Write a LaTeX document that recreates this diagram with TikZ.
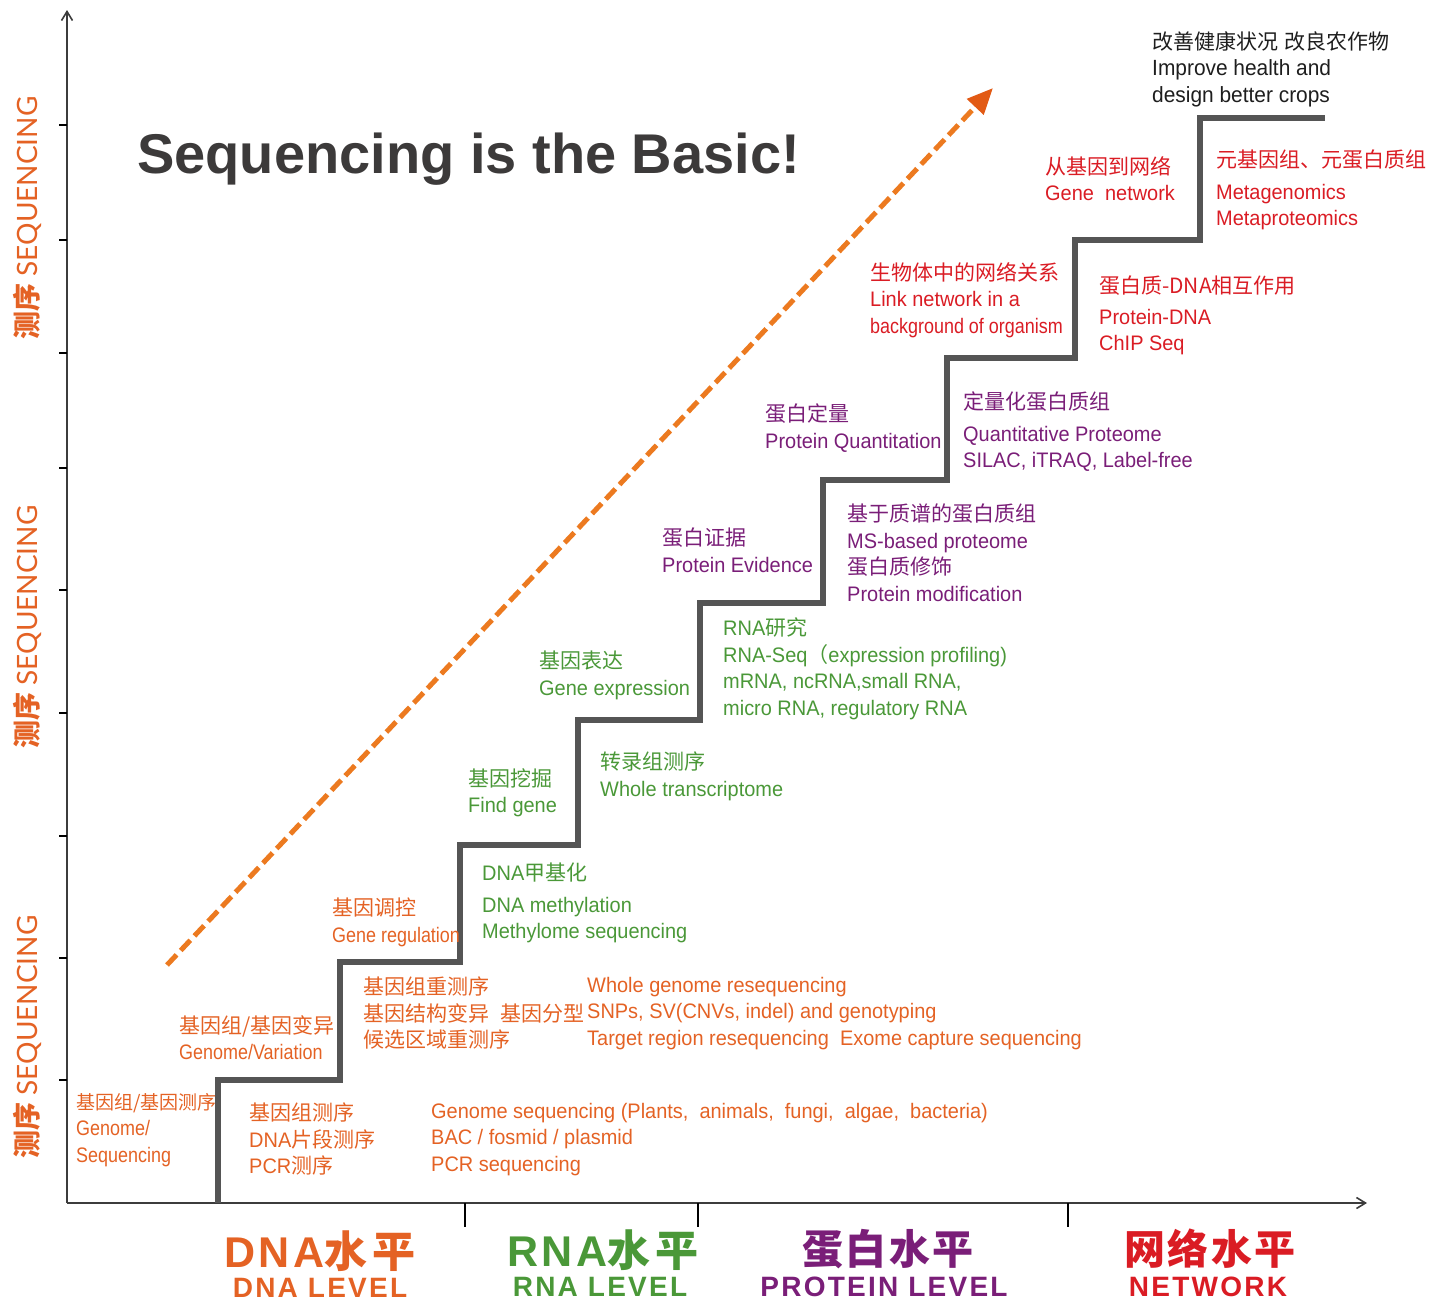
\documentclass[tikz,border=0pt]{standalone}
\usepackage{fontspec}
\usetikzlibrary{arrows.meta}
\setmainfont[FakeStretch=0.95]{Liberation Sans}
\newfontfamily\narrowsans[FakeStretch=0.855]{Liberation Sans}
\newfontfamily\plainsans{Liberation Sans}
\newfontfamily\cjk{Noto Sans CJK SC}
\newfontfamily\cjkls[LetterSpace=12]{Noto Sans CJK SC}
\newfontfamily\cjklt[LetterSpace=6]{Noto Sans CJK SC}
\newfontfamily\botfont[LetterSpace=8]{Liberation Sans}
\newfontfamily\labfont{Lato}
\definecolor{cor}{RGB}{228,98,36}
\definecolor{cgr}{RGB}{74,152,56}
\definecolor{cpu}{RGB}{122,30,120}
\definecolor{cre}{RGB}{218,28,36}
\definecolor{cdark}{RGB}{30,30,30}
\definecolor{ctitle}{RGB}{60,58,58}
\definecolor{cstair}{RGB}{85,85,85}
\definecolor{carrow}{RGB}{236,122,32}
\definecolor{chead}{RGB}{226,90,20}
\definecolor{caxis}{RGB}{60,60,60}
\tikzset{
  txt/.style={anchor=north west, inner sep=0pt, align=left, font=\fontsize{21}{26.5}\selectfont},
  sidelab/.style={rotate=90, inner sep=0pt, text=cor, font=\fontsize{28}{28}\selectfont\labfont},
  bigtitle/.style={anchor=base, inner sep=0pt, text depth=0pt, font=\fontsize{43}{43}\selectfont\botfont\bfseries},
  subtitle/.style={anchor=base, inner sep=0pt, text height=22pt, font=\fontsize{28}{28}\selectfont\botfont\bfseries},
  axisline/.style={line width=1.6pt, draw=caxis, -{Straight Barb[length=9pt,width=11pt]}},
  tickline/.style={line width=2.2pt, draw=black},
  stair/.style={line width=6pt, draw=cstair, line join=miter},
  darrow/.style={line width=5pt, draw=carrow, dash pattern=on 14pt off 6pt, -{Triangle[length=26pt,width=22pt,color=chead]}}
}
\begin{document}
\begin{tikzpicture}[x=1pt,y=-1pt]
\useasboundingbox (0,0) rectangle (1432,1301);
% axes
\coordinate (o) at (67,1203);
\coordinate (ytop) at (67,10);
\coordinate (xend) at (1367,1203);
\draw[axisline] (o) -- (ytop);
\draw[axisline] (o) -- (xend);
\foreach \yy in {125,240,353,468,590,713,836,958,1080}
  \draw[tickline, line width=1.8pt] (59,\yy) -- (67,\yy);
\foreach \xx in {465,698,1068}
  \draw[tickline] (\xx,1203) -- (\xx,1227);
% staircase
\draw[stair] (218,1203) -- (218,1080) -- (340,1080) -- (340,962) -- (460,962) -- (460,845)
  -- (578,845) -- (578,720) -- (700,720) -- (700,603) -- (823,603) -- (823,480)
  -- (947,480) -- (947,358) -- (1075,358) -- (1075,240) -- (1200,240) -- (1200,118) -- (1325,118);
% dashed arrow
\coordinate (as) at (167,965);
\coordinate (ae) at (993,88);
\draw[darrow] (as) -- (ae);
% title
\node[anchor=base west, inner sep=0pt, text=ctitle, font=\fontsize{56}{56}\selectfont\plainsans\bfseries] (title) at (137,173) {Sequencing is the Basic!};
% side labels
\node[sidelab] (s1) at (27,1037) {{\cjk\bfseries 测序}\ SEQUENCING};
\node[sidelab] (s2) at (27,627) {{\cjk\bfseries 测序}\ SEQUENCING};
\node[sidelab] (s3) at (27,218) {{\cjk\bfseries 测序}\ SEQUENCING};
% bottom labels
\node[bigtitle, text=cor] (b1) at (320,1267) {DNA{\cjkls\bfseries 水平}};
\node[subtitle, text=cor] (b1s) at (320,1297) {DNA LEVEL};
\node[bigtitle, text=cgr] (b2) at (603,1266) {RNA{\cjkls\bfseries 水平}};
\node[subtitle, text=cgr] (b2s) at (600,1296) {RNA LEVEL};
\node[bigtitle, text=cpu, font=\fontsize{41}{41}\selectfont] (b3) at (888,1264) {{\cjklt\bfseries 蛋白水平}};
\node[subtitle, text=cpu] (b3s) at (884,1296) {PROTEIN LEVEL};
\node[bigtitle, text=cre, font=\fontsize{41}{41}\selectfont] (b4) at (1210,1264) {{\cjklt\bfseries 网络水平}};
\node[subtitle, text=cre] (b4s) at (1208,1296) {NETWORK};
% texts
\node[txt,text=cor] (n1) at (76,1093) {{\cjk\fontsize{19}{26.5}\selectfont 基因组/基因测序}\\{\narrowsans Genome/}\\{\narrowsans Sequencing}};
\node[txt,text=cor] (n2) at (249,1103) {{\cjk 基因组测序}\\DNA{\cjk 片段测序}\\PCR{\cjk 测序}};
\node[txt,text=cor] (n3) at (431,1103) {Genome sequencing (Plants,\ \ animals,\ \ fungi,\ \ algae,\ \ bacteria)\\BAC / fosmid / plasmid\\PCR sequencing};
\node[txt,text=cor] (n4) at (179,1015) {{\cjk 基因组/基因变异}\\{\narrowsans Genome/Variation}};
\node[txt,text=cor] (n5) at (363,977) {{\cjk 基因组重测序}\\{\cjk 基因结构变异\hspace{11pt}基因分型}\\{\cjk 候选区域重测序}};
\node[txt,text=cor] (n6) at (587,977) {Whole genome resequencing\\SNPs, SV(CNVs, indel) and genotyping\\Target region resequencing\ \ Exome capture sequencing};
\node[txt,text=cor] (n7) at (332,898) {{\cjk 基因调控}\\{\narrowsans Gene regulation}};
\node[txt,text=cgr] (n8) at (482,863) {DNA{\cjk 甲基化}\\[5pt]DNA methylation\\Methylome sequencing};
\node[txt,text=cgr] (n9) at (468,768) {{\cjk 基因挖掘}\\Find gene};
\node[txt,text=cgr] (n10) at (600,752) {{\cjk 转录组测序}\\Whole transcriptome};
\node[txt,text=cgr] (n11) at (539,651) {{\cjk 基因表达}\\Gene expression};
\node[txt,text=cgr] (n12) at (723,618) {RNA{\cjk 研究}\\RNA-Seq{\cjk （}expression profiling)\\mRNA, ncRNA,small RNA,\\micro RNA, regulatory RNA};
\node[txt,text=cpu] (n13) at (662,528) {{\cjk 蛋白证据}\\Protein Evidence};
\node[txt,text=cpu] (n14) at (847,504) {{\cjk 基于质谱的蛋白质组}\\MS-based proteome\\{\cjk 蛋白质修饰}\\Protein modification};
\node[txt,text=cpu] (n15) at (765,404) {{\cjk 蛋白定量}\\Protein Quantitation};
\node[txt,text=cpu] (n16) at (963,392) {{\cjk 定量化蛋白质组}\\[5pt]Quantitative Proteome\\SILAC, iTRAQ, Label-free};
\node[txt,text=cre] (n17) at (870,262) {{\cjk 生物体中的网络关系}\\Link network in a\\{\narrowsans background of organism}};
\node[txt,text=cre] (n18) at (1099,276) {{\cjk 蛋白质-DNA相互作用}\\[4pt]Protein-DNA\\ChIP Seq};
\node[txt,text=cre] (n19) at (1045,156) {{\cjk 从基因到网络}\\Gene\ \ network};
\node[txt,text=cre] (n20) at (1216,150) {{\cjk 元基因组、元蛋白质组}\\[5pt]Metagenomics\\Metaproteomics};
\node[txt,text=cdark, font=\fontsize{22}{26.5}\selectfont] (n21) at (1152,31) {{\cjk\fontsize{21}{26.5}\selectfont 改善健康状况\hspace{6pt}改良农作物}\\Improve health and\\design better crops};
\end{tikzpicture}
\end{document}
